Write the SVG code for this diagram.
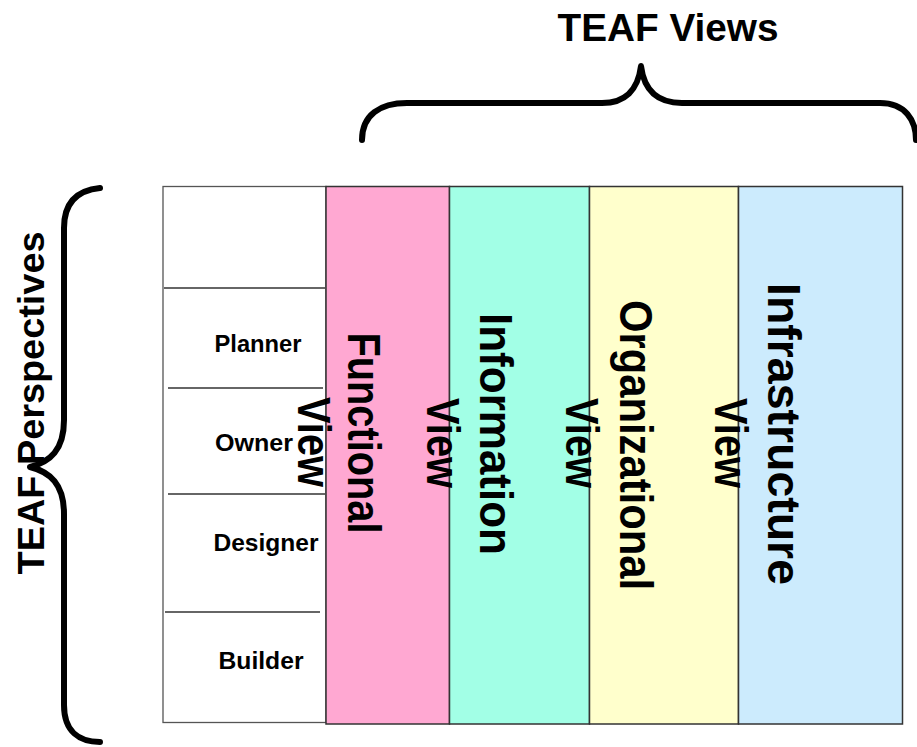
<svg xmlns="http://www.w3.org/2000/svg" width="917" height="747" viewBox="0 0 917 747">
<style>
.col{stroke:#333;stroke-width:1.5}
.row{stroke:#333;stroke-width:1.3}
.lbl{font-family:"Liberation Sans",Arial,sans-serif;font-weight:bold;fill:#000}
.rowt{font-size:23px;text-anchor:middle}
.vt{font-size:46px;text-anchor:middle}
.brace{fill:none;stroke:#000;stroke-width:6;stroke-linecap:round;stroke-linejoin:round}
</style>
<rect width="917" height="747" fill="#fff"/>
<g id="perspectives-table">
<rect x="163" y="186.5" width="163" height="536" fill="#fff" stroke="#555" stroke-width="1.3"/>
<line class="row" x1="164" y1="288" x2="325" y2="288"/>
<line class="row" x1="168" y1="388" x2="323" y2="388"/>
<line class="row" x1="168" y1="494" x2="325" y2="494"/>
<line class="row" x1="165" y1="612" x2="320" y2="612"/>
</g>
<g id="row-planner"><text class="lbl rowt" x="258" y="352" textLength="87" lengthAdjust="spacingAndGlyphs">Planner</text></g>
<g id="row-owner"><text class="lbl rowt" x="254" y="451" textLength="78" lengthAdjust="spacingAndGlyphs">Owner</text></g>
<g id="row-designer"><text class="lbl rowt" x="266" y="551" textLength="105" lengthAdjust="spacingAndGlyphs">Designer</text></g>
<g id="row-builder"><text class="lbl rowt" x="261" y="669" textLength="85" lengthAdjust="spacingAndGlyphs">Builder</text></g>
<g id="col-functional"><rect class="col" x="326" y="186.5" width="123.5" height="537.5" fill="#FFA8D2"/></g>
<g id="col-information"><rect class="col" x="449.5" y="186.5" width="140" height="537.5" fill="#A2FFE6"/></g>
<g id="col-organizational"><rect class="col" x="589.5" y="186.5" width="149" height="537.5" fill="#FFFFCC"/></g>
<g id="col-infrastructure"><rect class="col" x="738.5" y="186.5" width="164" height="537.5" fill="#CCEBFD"/></g>
<g id="col-labels">
<text class="lbl vt" transform="translate(348,433) rotate(90)" textLength="201" lengthAdjust="spacingAndGlyphs">Functional</text>
<text class="lbl vt" transform="translate(298,442) rotate(90)" textLength="90" lengthAdjust="spacingAndGlyphs">View</text>
<text class="lbl vt" transform="translate(480,434) rotate(90)" textLength="242" lengthAdjust="spacingAndGlyphs">Information</text>
<text class="lbl vt" transform="translate(427,443) rotate(90)" textLength="90" lengthAdjust="spacingAndGlyphs">View</text>
<text class="lbl vt" transform="translate(620,445) rotate(90)" textLength="290" lengthAdjust="spacingAndGlyphs">Organizational</text>
<text class="lbl vt" transform="translate(566,443) rotate(90)" textLength="90" lengthAdjust="spacingAndGlyphs">View</text>
<text class="lbl vt" transform="translate(768,434) rotate(90)" textLength="302" lengthAdjust="spacingAndGlyphs">Infrastructure</text>
<text class="lbl vt" transform="translate(715,443) rotate(90)" textLength="90" lengthAdjust="spacingAndGlyphs">View</text>
</g>
<g id="braces">
<path class="brace" d="M100,188 C80,190 64,200 64,228 L64,420 C64,450 50,462 30,467 C50,472 64,484 64,514 L64,705 C64,732 80,742 100,742"/>
<path class="brace" d="M362,140 C362,115 380,103 407,103 L602,103 C625,103 638,90 641,66 C644,90 657,103 682,103 L880,103 C905,103 916,120 916,140"/>
</g>
<g id="title-views"><text class="lbl" x="668" y="41" font-size="38" text-anchor="middle" textLength="221" lengthAdjust="spacingAndGlyphs">TEAF Views</text></g>
<g id="title-perspectives"><text class="lbl" transform="translate(44,403) rotate(-90)" font-size="36" text-anchor="middle" textLength="343" lengthAdjust="spacingAndGlyphs">TEAF Perspectives</text></g>
</svg>
